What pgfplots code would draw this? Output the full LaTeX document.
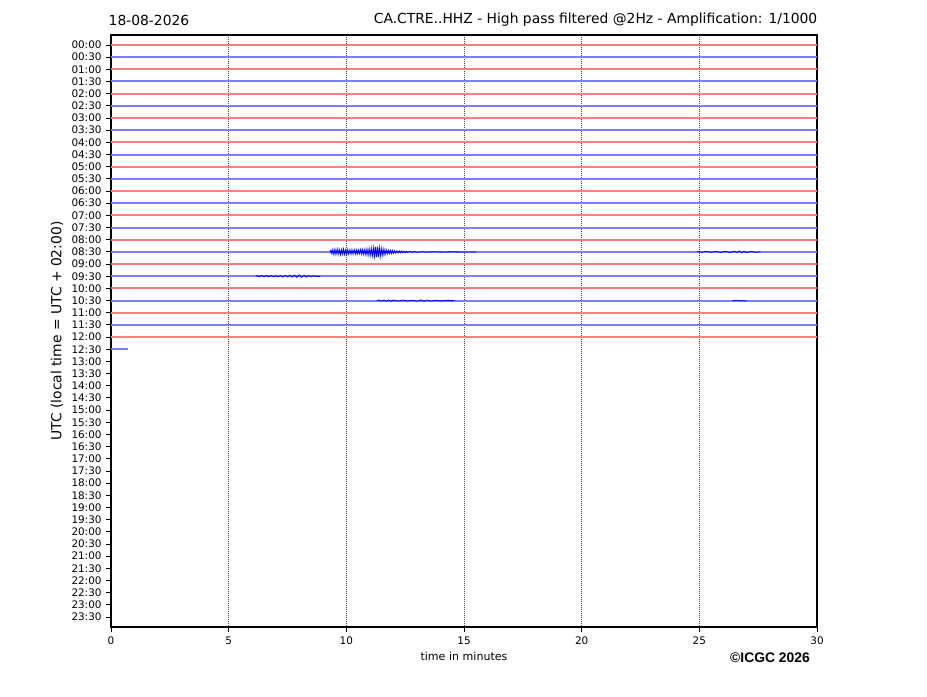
\documentclass[border=0pt]{standalone}
\usepackage{pgfplots}
\pgfplotsset{compat=1.18}
\usepackage{fontspec}
\setmainfont{DejaVu Sans}
\newfontfamily\arialf{Liberation Sans}
\definecolor{lr}{RGB}{255,125,125}
\definecolor{lb}{RGB}{125,125,255}
\begin{document}
\begin{tikzpicture}
\useasboundingbox (-83.25pt,-51.75pt) rectangle (612pt,470.25pt);
\begin{axis}[
  at={(0pt,0pt)}, anchor=south west,
  width=529.5pt, height=444pt, scale only axis,
  xmin=0, xmax=30, ymin=-0.82, ymax=47.82, y dir=reverse,
  xtick={0,5,...,30},
  ytick={0,...,47},
  yticklabels={00:00,00:30,01:00,01:30,02:00,02:30,03:00,03:30,04:00,04:30,05:00,05:30,06:00,06:30,07:00,07:30,08:00,08:30,09:00,09:30,10:00,10:30,11:00,11:30,12:00,12:30,13:00,13:30,14:00,14:30,15:00,15:30,16:00,16:30,17:00,17:30,18:00,18:30,19:00,19:30,20:00,20:30,21:00,21:30,22:00,22:30,23:00,23:30},
  xtick pos=left, ytick pos=left, tick align=outside,
  major tick length=3.6pt,
  tick style={black, line width=0.7pt},
  axis line style={black, line width=0.8pt},
  xmajorgrids, grid style={black!75, line width=0.5pt, dash pattern=on 0.75pt off 0.75pt},
  tick label style={font=\fontsize{7.8}{9}\selectfont},
  /pgf/number format/assume math mode=true,
  clip=true,
  every axis plot/.append style={line width=1.5pt},
]
\addplot[lr] coordinates {(0,0) (30,0)};
\addplot[lb] coordinates {(0,1) (30,1)};
\addplot[lr] coordinates {(0,2) (30,2)};
\addplot[lb] coordinates {(0,3) (30,3)};
\addplot[lr] coordinates {(0,4) (30,4)};
\addplot[lb] coordinates {(0,5) (30,5)};
\addplot[lr] coordinates {(0,6) (30,6)};
\addplot[lb] coordinates {(0,7) (30,7)};
\addplot[lr] coordinates {(0,8) (30,8)};
\addplot[lb] coordinates {(0,9) (30,9)};
\addplot[lr] coordinates {(0,10) (30,10)};
\addplot[lb] coordinates {(0,11) (30,11)};
\addplot[lr] coordinates {(0,12) (30,12)};
\addplot[lb] coordinates {(0,13) (30,13)};
\addplot[lr] coordinates {(0,14) (30,14)};
\addplot[lb] coordinates {(0,15) (30,15)};
\addplot[lr] coordinates {(0,16) (30,16)};
\addplot[lb] coordinates {(0,17) (9.3,17) (15.5,17) (24.9,17) (27.6,17) (30,17)};
\addplot[blue, line width=0.6pt] coordinates {(9.30,17) (9.33,16.9) (9.36,17.12) (9.40,16.82) (9.44,17.2) (9.48,16.78) (9.52,17.22) (9.56,16.8) (9.60,17.18) (9.64,16.76) (9.68,17.2) (9.72,16.82) (9.76,17.24) (9.80,16.8) (9.84,17.17) (9.88,16.75) (9.92,17.21) (9.96,16.84) (10.00,17.18) (10.04,16.8) (10.08,17.2) (10.12,16.83) (10.16,17.16) (10.20,16.82) (10.24,17.19) (10.28,16.84) (10.32,17.16) (10.36,16.81) (10.40,17.2) (10.44,16.83) (10.48,17.17) (10.52,16.85) (10.56,17.15) (10.60,16.82) (10.64,17.18) (10.68,16.8) (10.72,17.2) (10.76,16.82) (10.80,17.22) (10.84,16.78) (10.88,17.25) (10.92,16.76) (10.96,17.28) (11.00,16.72) (11.04,17.3) (11.08,16.7) (11.12,17.34) (11.16,16.66) (11.20,17.38) (11.24,16.6) (11.28,17.42) (11.32,16.58) (11.36,17.4) (11.40,16.62) (11.44,17.36) (11.48,16.7) (11.52,17.3) (11.56,16.74) (11.60,17.25) (11.64,16.8) (11.68,17.2) (11.72,16.84) (11.76,17.16) (11.80,16.86) (11.84,17.14) (11.88,16.87) (11.92,17.13) (11.96,16.88) (12.00,17.12) (12.05,16.9) (12.10,17.1) (12.15,16.91) (12.20,17.09) (12.25,16.92) (12.30,17.08) (12.35,16.93) (12.40,17.07) (12.45,16.94) (12.50,17.06) (12.55,16.95) (12.60,17.05) (12.70,16.96) (12.80,17.04) (12.90,16.97) (13.00,17.03) (13.20,16.98) (13.40,17.02) (13.70,16.98) (14.00,17.02) (14.50,16.99) (15.00,17.01) (15.5,17)};
\addplot[blue, line width=0.6pt] coordinates {(24.9,17) (25.0,16.96) (25.1,17.04) (25.3,16.96) (25.5,17.04) (25.7,16.95) (25.9,17.05) (26.1,16.95) (26.3,17.05) (26.5,16.94) (26.6,17.07) (26.7,16.92) (26.8,17.08) (26.9,16.93) (27.0,17.06) (27.2,16.96) (27.4,17.04) (27.6,17)};
\addplot[lr] coordinates {(0,18) (30,18)};
\addplot[lb] coordinates {(0,19) (30,19)};
\addplot[blue, line width=0.6pt] coordinates {(6.15,19) (6.2,18.95) (6.3,19.05) (6.4,18.94) (6.5,19.06) (6.6,18.95) (6.7,19.05) (6.8,18.94) (6.9,19.06) (7.0,18.95) (7.1,19.05) (7.2,18.95) (7.3,19.06) (7.4,18.94) (7.5,19.06) (7.6,18.93) (7.7,19.07) (7.8,18.91) (7.9,19.1) (8.0,18.89) (8.1,19.1) (8.2,18.91) (8.3,19.08) (8.4,18.94) (8.5,19.05) (8.6,18.96) (8.75,19.03) (8.9,19)};
\addplot[lr] coordinates {(0,20) (30,20)};
\addplot[lb] coordinates {(0,21) (30,21)};
\addplot[blue, line width=0.6pt] coordinates {(11.3,21) (11.4,20.96) (11.5,21.04) (11.6,20.95) (11.7,21.05) (11.8,20.94) (11.9,21.06) (12.0,20.95) (12.2,21.04) (12.4,20.96) (12.6,21.04) (12.8,20.96) (13.0,21.05) (13.2,20.94) (13.3,21.06) (13.4,20.95) (13.6,21.04) (13.8,20.97) (14.0,21.03) (14.3,20.98) (14.6,21)};
\addplot[blue, line width=0.6pt] coordinates {(26.4,21) (26.6,20.97) (26.8,21.03) (27.0,21)};
\addplot[lr] coordinates {(0,22) (30,22)};
\addplot[lb] coordinates {(0,23) (30,23)};
\addplot[lr] coordinates {(0,24) (30,24)};
\addplot[lb] coordinates {(0,25) (0.72,25)};
\end{axis}
\begin{scope}[shift={(-83.25pt,-51.75pt)}, x=0.75pt, y=0.75pt]
\node[anchor=west, font=\fontsize{10.4}{12}\selectfont] at (104,676) {18-08-2026};
\node[anchor=east, font=\fontsize{10.4}{12}\selectfont] at (822,676) {CA.CTRE..HHZ - High pass filtered @2Hz - Amplification: 1/1000};
\node[rotate=90, font=\fontsize{10.4}{12}\selectfont] at (57,365) {UTC (local time = UTC + 02:00)};
\node[font=\fontsize{8.3}{10}\selectfont] at (464,40) {time in minutes};
\node[font=\arialf\bfseries\fontsize{10.4}{12}\selectfont] at (770,38) {©ICGC 2026};
\end{scope}
\end{tikzpicture}
\end{document}
